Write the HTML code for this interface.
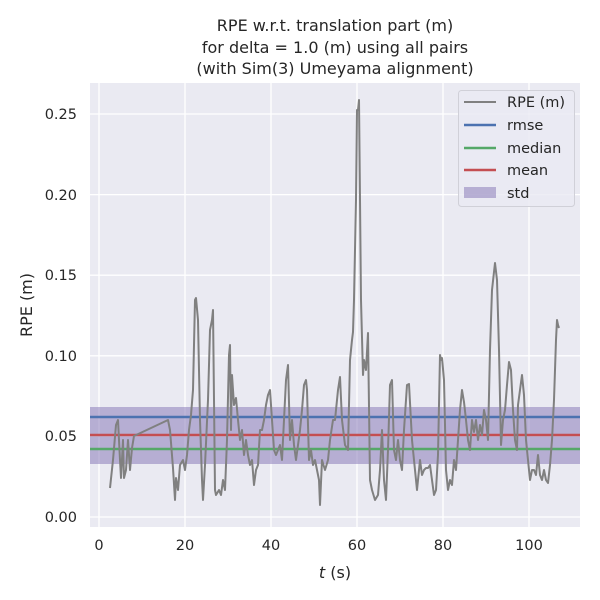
<!DOCTYPE html>
<html><head><style>body{margin:0;background:#fff}svg{display:block}</style></head><body>
<svg width="600" height="600" xmlns="http://www.w3.org/2000/svg" font-family="DejaVu Sans, Liberation Sans, sans-serif">
<rect width="600" height="600" fill="#fff"/>
<rect x="90" y="83" width="490" height="444" fill="#eaeaf2"/>
<g stroke="#fff" stroke-width="1.3">
<line x1="99" y1="83" x2="99" y2="527"/><line x1="185" y1="83" x2="185" y2="527"/><line x1="271" y1="83" x2="271" y2="527"/><line x1="357" y1="83" x2="357" y2="527"/><line x1="443" y1="83" x2="443" y2="527"/><line x1="529" y1="83" x2="529" y2="527"/>
<line x1="90" y1="517" x2="580" y2="517"/><line x1="90" y1="436.4" x2="580" y2="436.4"/><line x1="90" y1="355.8" x2="580" y2="355.8"/><line x1="90" y1="275.2" x2="580" y2="275.2"/><line x1="90" y1="194.6" x2="580" y2="194.6"/><line x1="90" y1="114" x2="580" y2="114"/>
</g>
<rect x="90" y="407" width="490" height="57" fill="#8172b3" fill-opacity="0.5"/>
<line x1="90" y1="417" x2="580" y2="417" stroke="#4c72b0" stroke-width="2.5"/>
<line x1="90" y1="449" x2="580" y2="449" stroke="#55a868" stroke-width="2.5"/>
<line x1="90" y1="435" x2="580" y2="435" stroke="#c44e52" stroke-width="2.5"/>
<polyline fill="none" stroke="#808080" stroke-width="2" stroke-linejoin="round" points="110,488 113,460 116,425 118,420 120,460 121,478 123,440 124,478 126,470 128,440 130,470 132,448 134,436 168,420 170,430 173,468 175,500 176,478 178,490 180,465 183,460 185,470 187,455 189,430 191,415 193,390 195,300 196,298 198,320 200,420 202,480 203,500 205,465 208,400 210,330 212,320 213,310 214,400 215,490 216,495 219,490 221,495 223,480 225,490 227,440 229,355 230,345 231,430 232,375 234,405 236,398 238,420 240,440 242,430 244,455 246,440 248,455 250,465 252,460 254,485 256,470 258,465 260,430 262,430 264,420 266,405 268,395 270,390 272,420 274,450 276,455 278,450 280,445 282,460 284,420 286,380 288,365 290,440 292,420 294,445 296,460 298,445 300,430 302,410 304,385 306,380 307,390 309,460 311,450 313,465 315,460 317,470 319,480 320,505 322,460 325,470 328,460 330,440 333,420 335,420 338,390 340,377 342,420 345,445 348,450 350,360 352,340 353,332 354,300 356,200 357,110 358,110 359,100 360,200 361,300 363,375 364,360 366,370 368,333 370,480 372,490 375,500 378,495 380,470 382,430 384,480 386,500 388,450 390,385 392,380 394,450 396,460 398,440 400,460 402,470 404,430 407,385 409,384 412,440 415,470 417,490 419,470 420,460 422,475 424,470 426,468 428,468 430,465 432,480 434,495 436,490 438,455 440,355 441,360 442,358 444,380 446,470 448,490 450,480 452,485 454,460 456,470 458,440 460,410 462,390 464,402 466,420 468,440 470,450 472,420 474,432 476,420 478,440 480,425 482,435 484,410 486,420 488,440 490,350 492,290 495,263 497,280 499,350 501,445 503,420 505,410 507,385 509,362 511,370 513,410 515,440 517,450 518,405 520,390 522,375 524,395 526,440 528,460 530,480 532,470 534,470 536,475 538,455 540,475 542,480 544,470 546,480 548,483 550,465 552,440 554,400 556,340 557,320 558,325 559,328"/>
<g fill="#262626" font-size="14.5" text-anchor="middle">
<text x="99" y="550">0</text><text x="185" y="550">20</text><text x="271" y="550">40</text><text x="357" y="550">60</text><text x="443" y="550">80</text><text x="529" y="550">100</text>
</g>
<g fill="#262626" font-size="14.5" text-anchor="end">
<text x="77" y="522">0.00</text><text x="77" y="441">0.05</text><text x="77" y="361">0.10</text><text x="77" y="280">0.15</text><text x="77" y="200">0.20</text><text x="77" y="119">0.25</text>
</g>
<text x="335" y="578" font-size="16" fill="#262626" text-anchor="middle"><tspan font-style="italic">t</tspan> (s)</text>
<text transform="translate(32,305) rotate(-90)" font-size="16" fill="#262626" text-anchor="middle">RPE (m)</text>
<g font-size="16" fill="#262626" text-anchor="middle">
<text x="335" y="31">RPE w.r.t. translation part (m)</text>
<text x="335" y="53">for delta = 1.0 (m) using all pairs</text>
<text x="335" y="74">(with Sim(3) Umeyama alignment)</text>
</g>
<rect x="458.5" y="90.5" width="116" height="116" rx="3" fill="#eaeaf2" fill-opacity="0.8" stroke="#d0d0d8"/>
<line x1="464" y1="102" x2="496" y2="102" stroke="#808080" stroke-width="2"/>
<line x1="464" y1="125" x2="496" y2="125" stroke="#4c72b0" stroke-width="2.5"/>
<line x1="464" y1="148" x2="496" y2="148" stroke="#55a868" stroke-width="2.5"/>
<line x1="464" y1="170" x2="496" y2="170" stroke="#c44e52" stroke-width="2.5"/>
<rect x="464" y="187" width="32" height="11" fill="#8172b3" fill-opacity="0.5"/>
<g font-size="14.5" fill="#262626">
<text x="507" y="107">RPE (m)</text><text x="507" y="130">rmse</text><text x="507" y="153">median</text><text x="507" y="175">mean</text><text x="507" y="198">std</text>
</g>
</svg>
</body></html>
